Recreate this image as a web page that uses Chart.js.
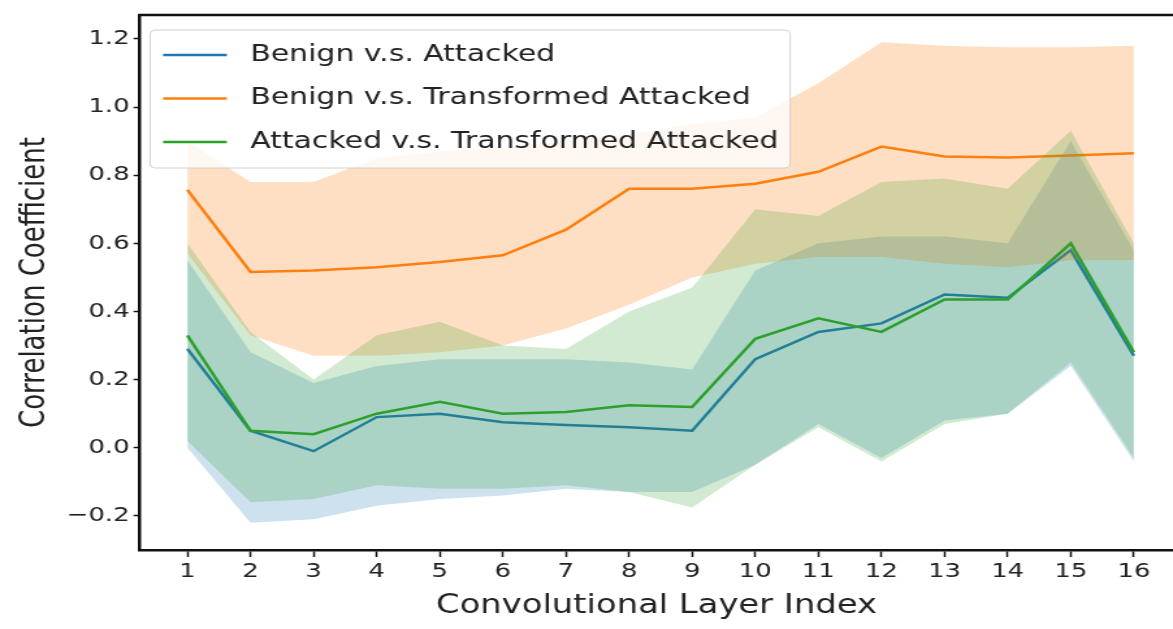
<!DOCTYPE html>
<html>
<head>
<meta charset="utf-8">
<script src="https://cdn.jsdelivr.net/npm/chart.js@4.4.1/dist/chart.umd.min.js"></script>
<style>
	html, body { margin: 0; padding: 0; background: #fff; overflow: hidden; }
	/* the figure is laid out narrow and widened sideways */
	#wrap { width: 902px; height: 629px; transform: scale(1.3004, 1); transform-origin: 0 0; }
</style>
</head>
<body>
<div id="wrap"><canvas id="chart" width="902" height="629"></canvas></div>
<script>
const layers = [1, 2, 3, 4, 5, 6, 7, 8, 9, 10, 11, 12, 13, 14, 15, 16];
const yTicks = [-0.2, 0.0, 0.2, 0.4, 0.6, 0.8, 1.0, 1.2];

const seriesNames = [
	'Benign v.s. Attacked',
	'Benign v.s. Transformed Attacked',
	'Attacked v.s. Transformed Attacked',
];

// Benign v.s. Attacked
const benignAtkMean  = [0.29, 0.05, -0.01, 0.09, 0.10, 0.075, 0.067, 0.06, 0.05, 0.26, 0.34, 0.365, 0.45, 0.44, 0.58, 0.27];
const benignAtkUpper = [0.55, 0.28, 0.19, 0.24, 0.26, 0.26, 0.26, 0.25, 0.23, 0.52, 0.60, 0.62, 0.62, 0.60, 0.90, 0.58];
const benignAtkLower = [0.00, -0.22, -0.21, -0.17, -0.15, -0.14, -0.12, -0.13, -0.13, -0.05, 0.07, -0.03, 0.08, 0.10, 0.24, -0.04];

// Benign v.s. Transformed Attacked
const benignTrMean  = [0.757, 0.516, 0.52, 0.53, 0.545, 0.565, 0.64, 0.76, 0.76, 0.775, 0.81, 0.884, 0.855, 0.852, 0.858, 0.864];
const benignTrUpper = [0.90, 0.78, 0.78, 0.85, 0.87, 0.88, 0.90, 0.92, 0.95, 0.97, 1.07, 1.19, 1.18, 1.175, 1.175, 1.18];
const benignTrLower = [0.57, 0.33, 0.27, 0.27, 0.28, 0.30, 0.35, 0.42, 0.50, 0.54, 0.56, 0.56, 0.54, 0.53, 0.55, 0.55];

// Attacked v.s. Transformed Attacked
const atkTrMean  = [0.33, 0.05, 0.04, 0.10, 0.135, 0.10, 0.105, 0.125, 0.12, 0.32, 0.38, 0.34, 0.435, 0.435, 0.60, 0.28];
const atkTrUpper = [0.60, 0.34, 0.20, 0.33, 0.37, 0.30, 0.29, 0.40, 0.47, 0.70, 0.68, 0.78, 0.79, 0.76, 0.93, 0.60];
const atkTrLower = [0.02, -0.16, -0.15, -0.11, -0.12, -0.12, -0.11, -0.13, -0.175, -0.05, 0.06, -0.04, 0.07, 0.10, 0.25, -0.03];

const FONT = "'DejaVu Sans', sans-serif";
const TEXT = '#222';
const AXIS = '#111';

Chart.defaults.font.family = FONT;

const pts = arr => arr.map((v, i) => ({x: layers[i], y: v}));

// shaded band + mean line for one series; lower order is drawn on top
function series(name, mean, upper, lower, rgb, alpha, order)
{
	return [
		{
			data: pts(upper),
			fill: '+1',
			backgroundColor: `rgba(${rgb},${alpha})`,
			borderColor: 'rgba(0,0,0,0)',
			borderWidth: 0,
			pointRadius: 0,
			order: order + 1,
		},
		{
			data: pts(lower),
			fill: false,
			borderColor: 'rgba(0,0,0,0)',
			borderWidth: 0,
			pointRadius: 0,
			order: order + 1,
		},
		{
			label: name,
			legend: true,
			data: pts(mean),
			fill: false,
			borderColor: `rgb(${rgb})`,
			borderWidth: 2.5,
			pointRadius: 0,
			order: order,
		},
	];
}

const datasets = [
	...series(seriesNames[0], benignAtkMean, benignAtkUpper, benignAtkLower, '31,119,180', 0.22, 6),
	...series(seriesNames[1], benignTrMean, benignTrUpper, benignTrLower, '255,127,14', 0.25, 3),
	...series(seriesNames[2], atkTrMean, atkTrUpper, atkTrLower, '44,160,44', 0.22, 0),
];

// legend box in the upper-left corner of the axes, plus the top spine
const frame = {
	id: 'frame',
	afterDraw(chart) {
		const ctx = chart.ctx;
		const area = chart.chartArea;
		const items = chart.data.datasets.filter(d => d.legend);

		ctx.save();
		ctx.font = `23px ${FONT}`;
		let textW = 0;
		for(const d of items)
			textW = Math.max(textW, ctx.measureText(d.label).width);

		const bx = area.left + 7.7;
		const by = area.top + 15;
		const textX = bx + 77;
		const bw = textX - bx + textW + 9;
		const bh = 138;

		ctx.beginPath();
		ctx.roundRect(bx, by, bw, bh, 4);
		ctx.fillStyle = 'rgba(255,255,255,0.8)';
		ctx.fill();
		ctx.lineWidth = 1;
		ctx.strokeStyle = '#d0d0d0';
		ctx.stroke();

		ctx.textBaseline = 'middle';
		ctx.textAlign = 'left';
		items.forEach((d, i) => {
			const ry = by + 25 + i * 43.5;
			ctx.beginPath();
			ctx.moveTo(bx + 10, ry);
			ctx.lineTo(bx + 59, ry);
			ctx.lineWidth = 2.5;
			ctx.strokeStyle = d.borderColor;
			ctx.stroke();
			ctx.fillStyle = TEXT;
			ctx.fillText(d.label, textX, ry);
		});

		ctx.beginPath();
		ctx.moveTo(area.left - 1.25, area.top);
		ctx.lineTo(area.right, area.top);
		ctx.lineWidth = 2.5;
		ctx.strokeStyle = AXIS;
		ctx.stroke();
		ctx.restore();
	}
};

new Chart(document.getElementById('chart'), {
	type: 'line',
	data: {datasets: datasets},
	options: {
		responsive: false,
		animation: false,
		devicePixelRatio: 1,
		layout: {padding: {top: 10, right: 0, bottom: 0, left: 0}},
		plugins: {
			legend: {display: false},
			tooltip: {enabled: false},
		},
		scales: {
			x: {
				type: 'linear',
				min: 0.25,
				max: 16.62,
				afterBuildTicks: s => { s.ticks = layers.map(v => ({value: v})); },
				afterFit: s => { s.height = 79; },
				grid: {display: true, drawOnChartArea: false, drawTicks: true, tickLength: 7, tickColor: AXIS, tickWidth: 1.5},
				border: {display: true, color: AXIS, width: 2.5},
				ticks: {
					color: TEXT,
					font: {size: 20},
					padding: 3,
					maxRotation: 0,
					autoSkip: false,
					callback: v => String(v),
				},
				title: {
					display: true,
					text: 'Convolutional Layer Index',
					color: TEXT,
					font: {size: 26},
					padding: {top: 2, bottom: 7},
				},
			},
			y: {
				min: -0.3,
				max: 1.27,
				afterBuildTicks: s => { s.ticks = yTicks.map(v => ({value: v})); },
				afterFit: s => { s.width = 107.7; },
				grid: {display: true, drawOnChartArea: false, drawTicks: true, tickLength: 5, tickColor: AXIS, tickWidth: 1.5},
				border: {display: true, color: AXIS, width: 2.5},
				ticks: {
					color: TEXT,
					font: {size: 20},
					padding: 3,
					callback: v => (v < -1e-9 ? '\u2212' : '') + Math.abs(v).toFixed(1),
				},
				title: {
					display: true,
					text: 'Correlation Coefficient',
					color: TEXT,
					font: {size: 26},
					padding: {top: 12, bottom: 4},
				},
			},
		},
	},
	plugins: [frame],
});
</script>
</body>
</html>
